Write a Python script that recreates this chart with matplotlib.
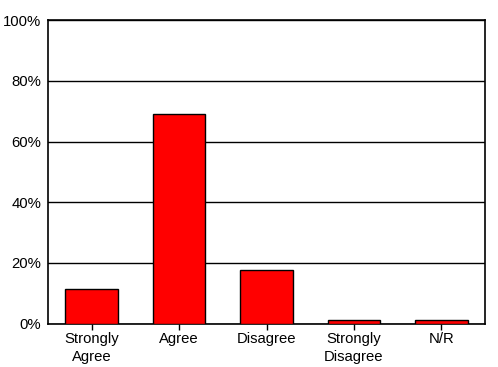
import matplotlib
matplotlib.use("Agg")
import matplotlib.pyplot as plt
from matplotlib.ticker import FuncFormatter

categories = ["Strongly\nAgree", "Agree", "Disagree", "Strongly\nDisagree", "N/R"]
values = [11.3, 69.0, 17.5, 1.0, 1.0]
yticks = [0, 20, 40, 60, 80, 100]

plt.rcParams['font.family'] = ['Liberation Sans', 'DejaVu Sans']
plt.rcParams['font.size'] = 10.7

fig = plt.figure(figsize=(4.98, 3.67), dpi=100)
ax = fig.add_axes([0.0964, 0.1185, 0.8776, 0.8262])

x = range(len(categories))
ax.bar(x, values, width=0.6, color="#ff0000", edgecolor="black", linewidth=1, zorder=3)

ax.set_xlim(-0.5, len(categories) - 0.5)
ax.set_ylim(0, 100)
ax.set_yticks(yticks)
ax.yaxis.set_major_formatter(FuncFormatter(lambda v, p: "%d%%" % v))
ax.set_xticks(list(x))
ax.set_xticklabels(categories, linespacing=1.35)
ax.grid(axis="y", color="black", linewidth=1, zorder=0)
ax.tick_params(axis="x", length=4, width=1, pad=2)
ax.tick_params(axis="y", length=0, pad=5)
for s in ax.spines.values():
    s.set_linewidth(1.2)

fig.savefig("out.png", dpi=100)
